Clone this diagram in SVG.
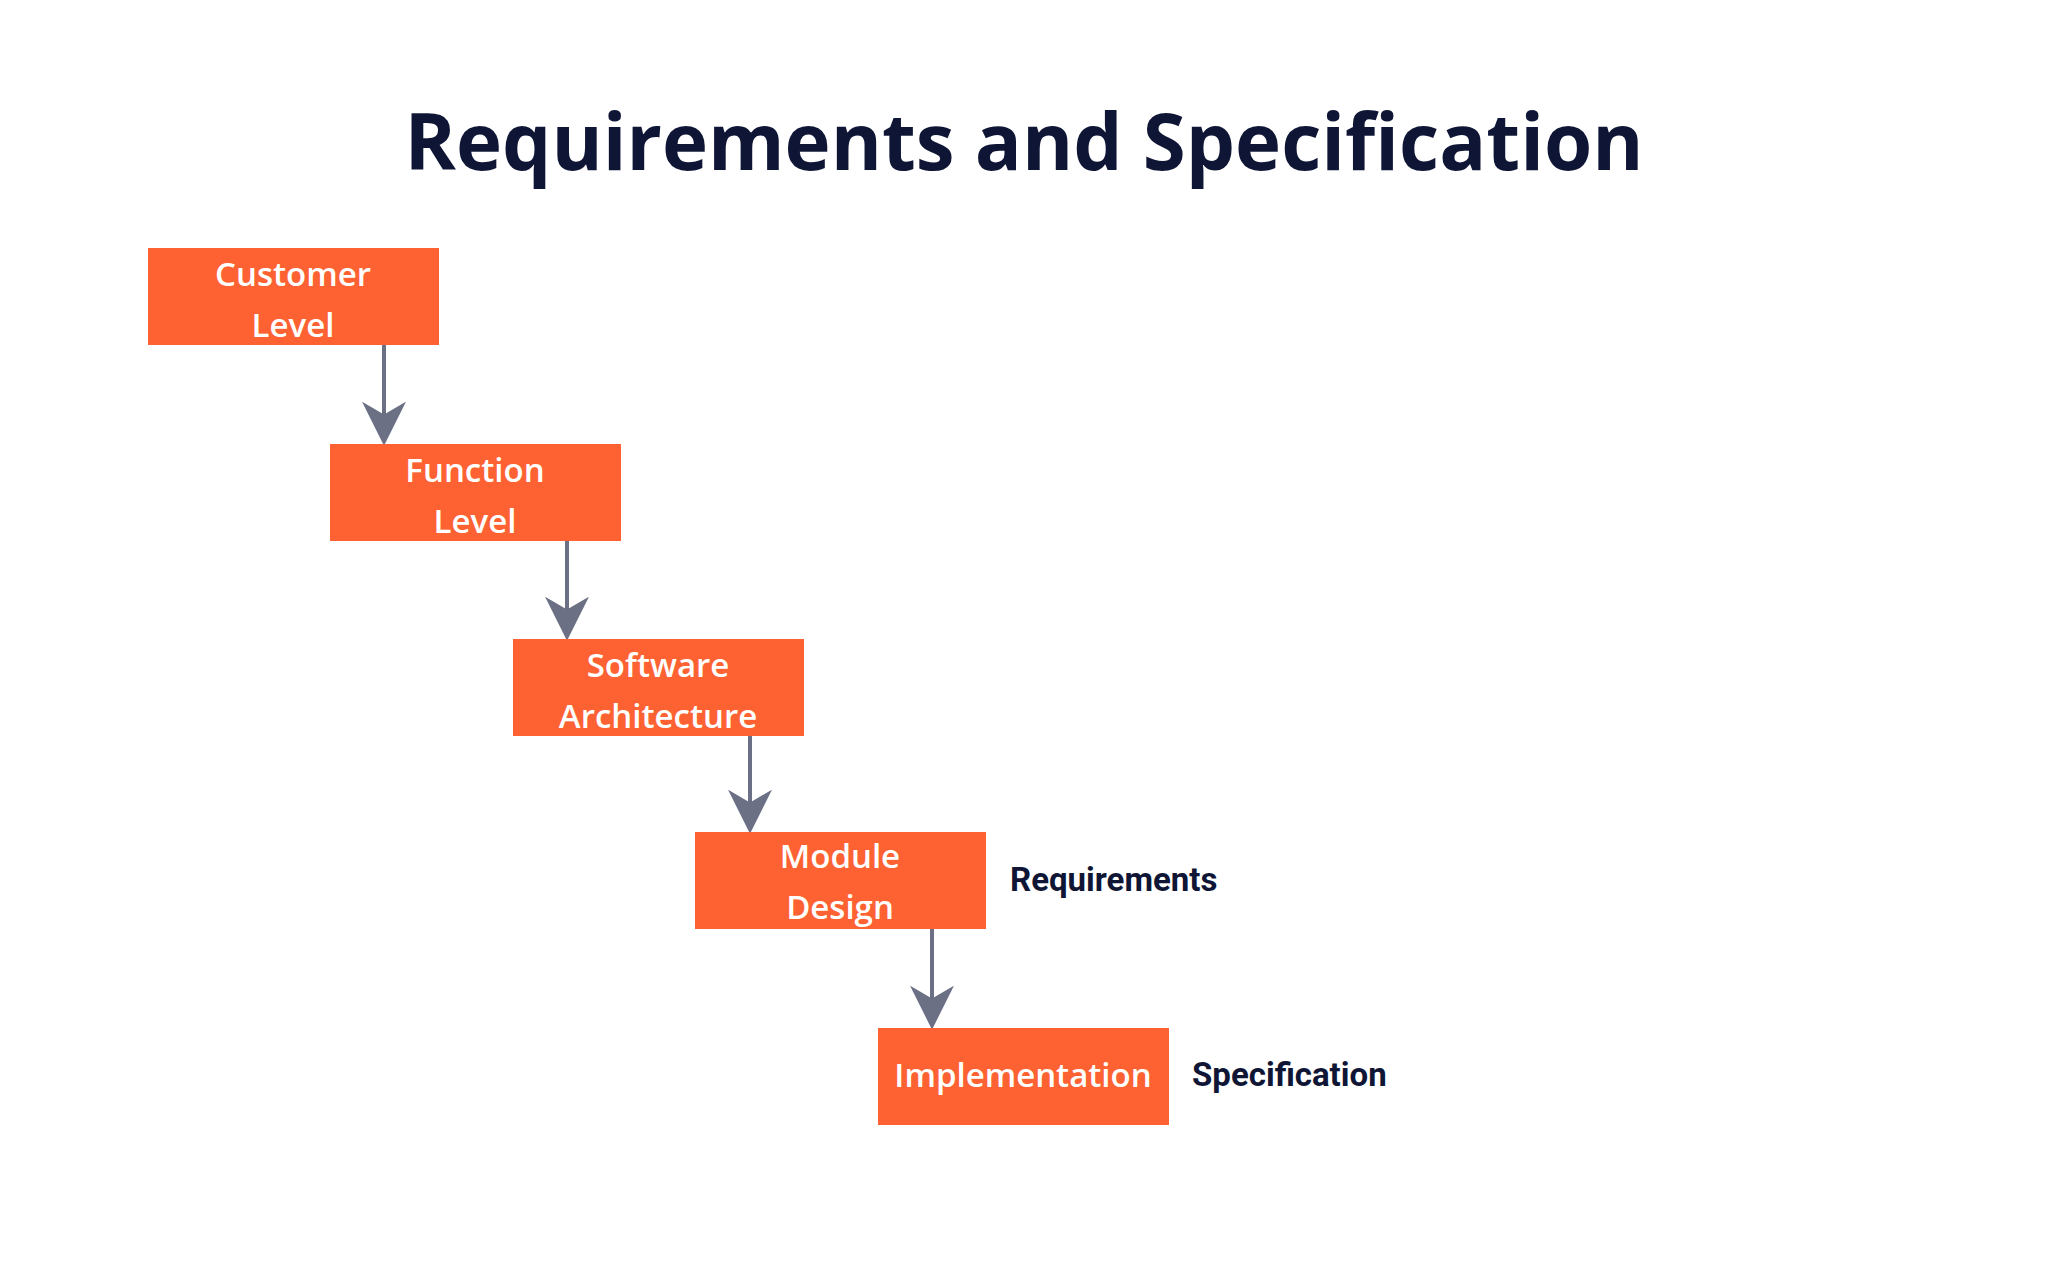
<svg xmlns="http://www.w3.org/2000/svg" width="2048" height="1280" viewBox="0 0 2048 1280">
<style>
.box{fill:#fe6232}
.bt{font-family:"Open Sans","Noto Sans",sans-serif;font-weight:600;font-size:33px;fill:#ffffff;text-anchor:middle;dominant-baseline:central}
.lb{font-family:Roboto,"Noto Sans",sans-serif;font-weight:700;font-size:33px;fill:#0f1535;dominant-baseline:central}
.ar{stroke:#6b7085;stroke-width:4;fill:none}
</style>
<defs>
<marker id="ah" viewBox="0 0 10 10" refX="9" refY="5" markerWidth="12" markerHeight="12" markerUnits="userSpaceOnUse" orient="auto">
<path d="M0,0 L10,5 L0,10 L3,5 Z" fill="#6b7085"/>
</marker>
<marker id="ah2" viewBox="0 0 24 24" refX="22" refY="12" markerWidth="44" markerHeight="44" markerUnits="userSpaceOnUse" orient="auto">
<path d="M0,0 L24,12 L0,24 L7,12 Z" fill="#6b7085"/>
</marker>
</defs>
<rect width="2048" height="1280" fill="#ffffff"/>
<text x="1024" y="170" text-anchor="middle" font-family="'Open Sans','Noto Sans',sans-serif" font-weight="700" font-size="78" fill="#0f1535">Requirements and Specification</text>
<g id="connectors">
<line class="ar" x1="384" y1="345" x2="384" y2="442" marker-end="url(#ah2)"/>
<line class="ar" x1="567" y1="540" x2="567" y2="637" marker-end="url(#ah2)"/>
<line class="ar" x1="750" y1="735" x2="750" y2="830" marker-end="url(#ah2)"/>
<line class="ar" x1="932" y1="929" x2="932" y2="1026" marker-end="url(#ah2)"/>
</g>
<g id="customer"><rect class="box" x="148" y="248" width="291" height="97"/><text class="bt" x="293" y="273">Customer</text><text class="bt" x="293" y="324">Level</text></g>
<g id="function"><rect class="box" x="330" y="444" width="291" height="97"/><text class="bt" x="475" y="469">Function</text><text class="bt" x="475" y="520">Level</text></g>
<g id="software"><rect class="box" x="513" y="639" width="291" height="97"/><text class="bt" x="658" y="664">Software</text><text class="bt" x="658" y="715">Architecture</text></g>
<g id="module"><rect class="box" x="695" y="832" width="291" height="97"/><text class="bt" x="840" y="855">Module</text><text class="bt" x="840" y="906">Design</text></g>
<g id="implementation"><rect class="box" x="878" y="1028" width="291" height="97"/><text class="bt" x="1023" y="1074">Implementation</text></g>
<g id="labels"><text class="lb" x="1010" y="879">Requirements</text><text class="lb" x="1192" y="1074">Specification</text></g>
</svg>
